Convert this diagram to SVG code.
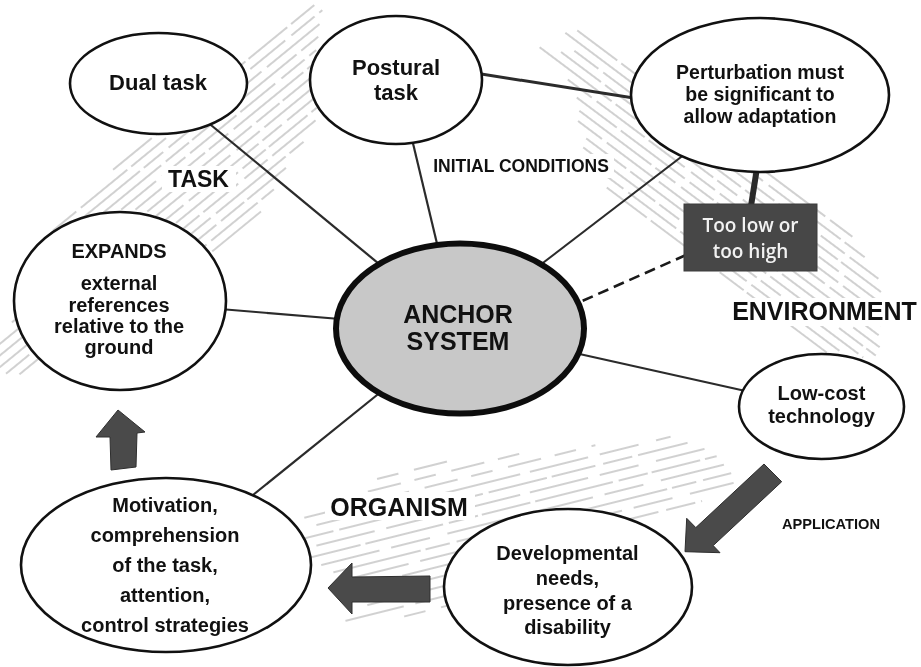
<svg xmlns="http://www.w3.org/2000/svg" width="921" height="667" viewBox="0 0 921 667">
<style>
.hatch line{stroke:#c2c2c2;stroke-width:1.3;fill:none}
.d1{stroke-dasharray:50 5 80 6 30 4}
.d2{stroke-dasharray:30 6 60 5 45 8}
.d3{stroke-dasharray:90 5 25 7}
.d4{stroke-dasharray:22 16 34 14}
.d5{stroke-dasharray:60 12 40 18 80 10}
.conn line{stroke:#2b2b2b;stroke-width:2.2;fill:none}
.node ellipse{fill:#fff;stroke:#111;stroke-width:2.6}
text{font-family:"Liberation Sans",Arial,sans-serif;font-weight:bold;fill:#111;text-anchor:middle}
.n20{font-size:20px}
.arrow{fill:#4a4a4a;stroke:#2e2e2e;stroke-width:1}
</style>
<defs>
<mask id="hm" maskUnits="userSpaceOnUse" x="0" y="0" width="921" height="667">
<rect x="0" y="0" width="921" height="667" fill="#fff"/>
<rect x="162" y="166" width="74" height="26" fill="#000"/>
<rect x="726" y="298" width="195" height="28" fill="#000"/>
<rect x="325" y="492" width="150" height="28" fill="#000"/>
<rect x="428" y="154" width="186" height="24" fill="#000"/>
</mask>
</defs>
<rect x="0" y="0" width="921" height="667" fill="#fff"/>

<g id="hatching" class="hatch" mask="url(#hm)">
<g transform="rotate(-39.3)">
<line class="d1" x1="-20" y1="203" x2="240" y2="203"/>
<line class="d2" x1="-105" y1="212" x2="243" y2="212"/>
<line class="d3" x1="-90" y1="221" x2="232" y2="221"/>
<line class="d1" x1="-115" y1="230" x2="223" y2="230"/>
<line class="d2" x1="-140" y1="239" x2="213" y2="239"/>
<line class="d3" x1="-155" y1="248" x2="204" y2="248"/>
<line class="d1" x1="-195" y1="257" x2="197" y2="257"/>
<line class="d2" x1="-220" y1="266" x2="190" y2="266"/>
<line class="d3" x1="-235" y1="275" x2="182" y2="275"/>
<line class="d1" x1="-235" y1="284" x2="177" y2="284"/>
<line class="d2" x1="-232" y1="293" x2="168" y2="293"/>
<line class="d3" x1="-222" y1="302" x2="145" y2="302"/>
<line class="d1" x1="-110" y1="311" x2="118" y2="311"/>
<line class="d2" x1="-25" y1="320" x2="92" y2="320"/>
<line class="d3" x1="5" y1="329" x2="68" y2="329"/>
</g>
<g transform="rotate(36.87)">
<line class="d1" x1="480" y1="-322" x2="824" y2="-322"/>
<line class="d3" x1="472" y1="-313" x2="850" y2="-313"/>
<line class="d2" x1="490" y1="-304" x2="870" y2="-304"/>
<line class="d1" x1="480" y1="-295" x2="884" y2="-295"/>
<line class="d3" x1="460" y1="-286" x2="890" y2="-286"/>
<line class="d2" x1="502" y1="-277" x2="890" y2="-277"/>
<line class="d1" x1="520" y1="-268" x2="900" y2="-268"/>
<line class="d3" x1="530" y1="-259" x2="908" y2="-259"/>
<line class="d2" x1="535" y1="-250" x2="912" y2="-250"/>
<line class="d1" x1="552" y1="-241" x2="914" y2="-241"/>
<line class="d3" x1="555" y1="-232" x2="905" y2="-232"/>
<line class="d2" x1="582" y1="-223" x2="895" y2="-223"/>
<line class="d1" x1="598" y1="-214" x2="873" y2="-214"/>
</g>
<g transform="rotate(-14)">
<line class="d4" x1="250" y1="556" x2="330" y2="556"/>
<line class="d4" x1="200" y1="566" x2="400" y2="566"/>
<line class="d4" x1="170" y1="576" x2="470" y2="576"/>
<line class="d5" x1="180" y1="586" x2="545" y2="586"/>
<line class="d2" x1="165" y1="596" x2="560" y2="596"/>
<line class="d5" x1="175" y1="606" x2="575" y2="606"/>
<line class="d1" x1="168" y1="616" x2="585" y2="616"/>
<line class="d5" x1="175" y1="626" x2="590" y2="626"/>
<line class="d3" x1="185" y1="636" x2="595" y2="636"/>
<line class="d5" x1="200" y1="646" x2="595" y2="646"/>
<line class="d2" x1="215" y1="656" x2="560" y2="656"/>
<line class="d5" x1="190" y1="666" x2="500" y2="666"/>
<line class="d1" x1="210" y1="676" x2="480" y2="676"/>
<line class="d5" x1="185" y1="686" x2="455" y2="686"/>
<line class="d4" x1="243" y1="696" x2="430" y2="696"/>
</g>
</g>

<g id="connectors" class="conn">
<line x1="200" y1="116" x2="390" y2="273"/>
<line x1="411" y1="135" x2="439" y2="252"/>
<line x1="475" y1="73" x2="640" y2="99" style="stroke-width:3"/>
<line x1="685" y1="154" x2="535" y2="269"/>
<line x1="220" y1="309" x2="340" y2="319"/>
<line x1="575" y1="353" x2="750" y2="392"/>
<line x1="382" y1="391" x2="248" y2="499"/>
<line x1="757" y1="168" x2="751" y2="206" style="stroke-width:6;stroke:#2a2a2a"/>
<line x1="686" y1="255" x2="580" y2="302" style="stroke-dasharray:11 6;stroke-width:2.6;stroke:#1a1a1a"/>
</g>

<g id="arrows">
<polygon class="arrow" points="118,410 145,432 137,433 136,467 111,470 110,437 96,437"/>
<polygon class="arrow" points="328,588 352,563 352,577 430,576 430,602 352,602 352,614"/>
<polygon class="arrow" points="764,464 781.7,481.7 713.2,545.6 720,552.7 685,551.7 686.7,518.3 695.8,527.6"/>
</g>

<g id="node-dual" class="node">
<ellipse cx="158.5" cy="83.5" rx="88.5" ry="50.5"/>
<text x="158" y="90" style="font-size:22px">Dual task</text>
</g>
<g id="node-postural" class="node">
<ellipse cx="396" cy="80" rx="86" ry="64"/>
<text x="396" y="75" style="font-size:22px">Postural</text>
<text x="396" y="100" style="font-size:22px">task</text>
</g>
<g id="node-perturbation" class="node">
<ellipse cx="760" cy="95" rx="129" ry="77"/>
<text x="760" y="79" style="font-size:19.5px">Perturbation must</text>
<text x="760" y="101" style="font-size:19.5px">be significant to</text>
<text x="760" y="123" style="font-size:19.5px">allow adaptation</text>
</g>
<g id="node-toolow">
<rect x="684" y="204" width="133" height="67" fill="#474747" stroke="#3c3c3c" stroke-width="1"/>
<text x="750.5" y="231.5" style="font-family:'Open Sans','Noto Sans',sans-serif;font-weight:600;font-size:19px;fill:#f2f2f2">Too low or</text>
<text x="750.5" y="257.5" style="font-family:'Open Sans','Noto Sans',sans-serif;font-weight:600;font-size:19px;fill:#f2f2f2">too high</text>
</g>
<g id="node-expands" class="node">
<ellipse cx="120" cy="301" rx="106" ry="89"/>
<text x="119" y="258" class="n20">EXPANDS</text>
<text x="119" y="290" class="n20">external</text>
<text x="119" y="312" class="n20">references</text>
<text x="119" y="333" class="n20">relative to the</text>
<text x="119" y="354" class="n20">ground</text>
</g>
<g id="node-anchor">
<ellipse cx="460" cy="328.5" rx="124" ry="85" fill="#c8c8c8" stroke="#0d0d0d" stroke-width="6"/>
<text x="458" y="323" style="font-size:25px">ANCHOR</text>
<text x="458" y="350" style="font-size:25px">SYSTEM</text>
</g>
<g id="node-lowcost" class="node">
<ellipse cx="821.5" cy="406.5" rx="82.5" ry="52.5"/>
<text x="821.5" y="400" style="font-size:20px">Low-cost</text>
<text x="821.5" y="422.5" style="font-size:20px">technology</text>
</g>
<g id="node-developmental" class="node">
<ellipse cx="568" cy="587" rx="124" ry="78"/>
<text x="567.5" y="560" class="n20">Developmental</text>
<text x="567.5" y="585" class="n20">needs,</text>
<text x="567.5" y="610" class="n20">presence of a</text>
<text x="567.5" y="634" class="n20">disability</text>
</g>
<g id="node-motivation" class="node">
<ellipse cx="166" cy="565" rx="145" ry="87"/>
<text x="165" y="512" class="n20">Motivation,</text>
<text x="165" y="542" class="n20">comprehension</text>
<text x="165" y="572" class="n20">of the task,</text>
<text x="165" y="602" class="n20">attention,</text>
<text x="165" y="632" class="n20">control strategies</text>
</g>

<g id="labels">
<text x="198.5" y="187" style="font-size:23px">TASK</text>
<text x="824.5" y="320" style="font-size:25px">ENVIRONMENT</text>
<text x="399" y="516" style="font-size:25px">ORGANISM</text>
<text x="521" y="171.5" style="font-size:17.5px">INITIAL CONDITIONS</text>
<text x="831" y="529" textLength="98" lengthAdjust="spacingAndGlyphs" style="font-size:15.5px">APPLICATION</text>
</g>
</svg>
